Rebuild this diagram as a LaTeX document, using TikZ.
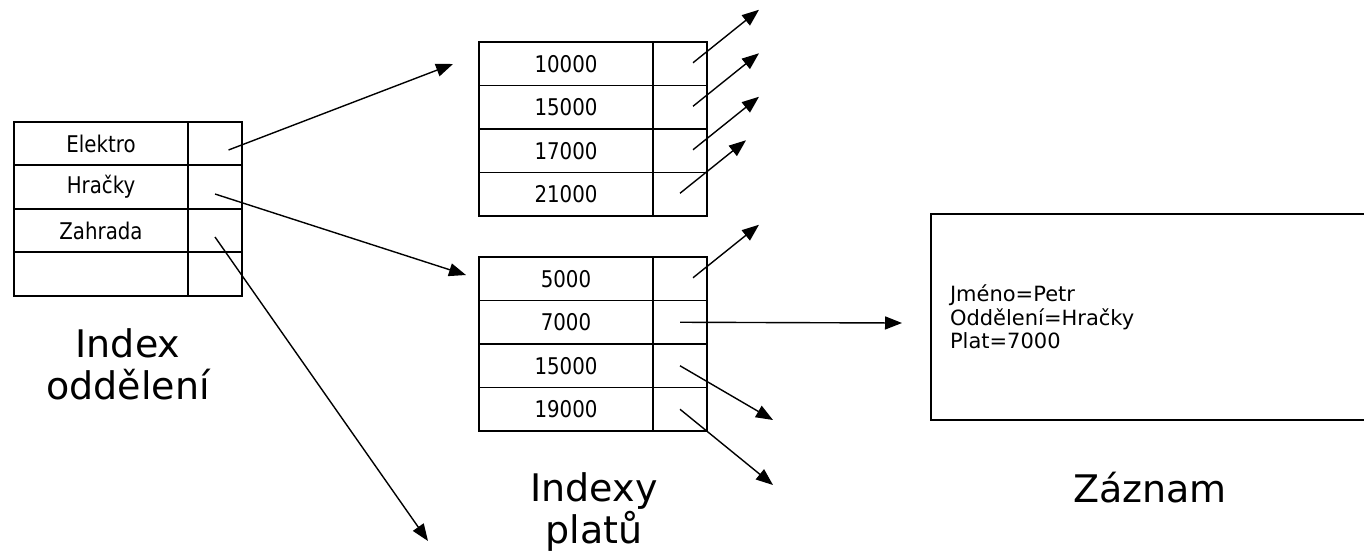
\documentclass[tikz,border=0pt]{standalone}
\usepackage{fontspec}
\setmainfont{DejaVu Sans}
\newfontfamily\narrowfont{DejaVu Sans}[FakeStretch=0.86]
\usetikzlibrary{arrows.meta, positioning}

\begin{document}
\begin{tikzpicture}[x=1pt, y=-1pt, >={Triangle[length=17pt,width=13pt]}]

\tikzstyle{key} = [draw, shape=rectangle, line width=1.6pt, outer sep=0pt, inner sep=0pt, minimum width=174pt, minimum height=43.5pt, font=\narrowfont\fontsize{23}{26}\selectfont]
\tikzstyle{ptr} = [key, minimum width=54pt]
\tikzstyle{caption} = [align=center, inner sep=0pt, font=\fontsize{38}{42}\selectfont]
\tikzstyle{link} = [->, line width=1.4pt]

\useasboundingbox (0,0) rectangle (1364,558);
\clip (0,0) rectangle (1364,558);

%Index oddeleni
\node [key] at (101,143.5) (el) {Elektro};
\node [key, below=0pt of el] (hr) {Hračky};
\node [key, below=0pt of hr] (za) {Zahrada};
\node [key, below=0pt of za] (em) {};
\foreach \n in {el,hr,za,em} \node [ptr, right=0pt of \n] (p\n) {};
\node [caption] at (128,364) (idxodd) {Index\\oddělení};

%Indexy platu
\node [key] at (566,63.75) (a1) {10000};
\node [key, below=0pt of a1] (a2) {15000};
\node [key, below=0pt of a2] (a3) {17000};
\node [key, below=0pt of a3] (a4) {21000};
\node [key] at (566,278.75) (b1) {5000};
\node [key, below=0pt of b1] (b2) {7000};
\node [key, below=0pt of b2] (b3) {15000};
\node [key, below=0pt of b3] (b4) {19000};
\foreach \n in {a1,a2,a3,a4,b1,b2,b3,b4} \node [ptr, right=0pt of \n] (p\n) {};
\node [caption] at (594,512.5) (idxplat) {Indexy\\platů};

%Zaznam
\node [draw, line width=1.6pt, text width=491pt, inner xsep=19pt, minimum height=206pt, align=left, font=\fontsize{21}{23.5}\selectfont] at (1195.5,317) (rec) {Jméno=Petr\\Oddělení=Hračky\\Plat=7000};
\node [caption, anchor=base] at (1150,502) (zaznam) {Záznam};

%Free ends of the pointers
\coordinate (tel) at (453,64);
\coordinate (thr) at (466,275);
\coordinate (tza) at (428,541);
\coordinate (tb2) at (902,323);
\coordinate (tb3) at (773,420);
\coordinate (tb4) at (773,485);

%Pointers
\draw[link] ([shift={(13.5,6.5)}]pel.center) -- (tel);
\draw[link] ([shift={(0,7)}]phr.center) -- (thr);
\draw[link] ([shift={(0,6.5)}]pza.center) -- (tza);
\foreach \n in {a1,a2,a3,b1}
  \draw[link] ([shift={(13,-1)}]p\n.center) -- ++(66,-53);
\draw[link] ([shift={(0,-1)}]pa4.center) -- ++(66,-53);
\draw[link] (pb2.center) -- (tb2);
\draw[link] (pb3.center) -- (tb3);
\draw[link] (pb4.center) -- (tb4);

\end{tikzpicture}
\end{document}
